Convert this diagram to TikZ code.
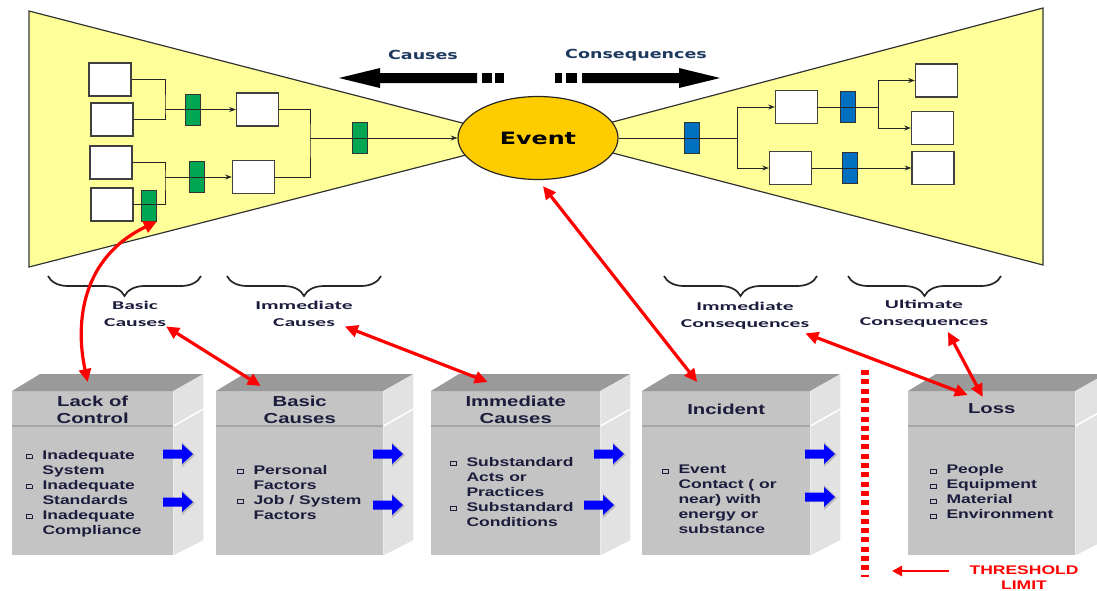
\documentclass[tikz,border=0pt]{standalone}
\usepackage{fontspec}
\setmainfont{Liberation Sans}
\newfontfamily\boxfont{Liberation Sans}[FakeStretch=1.4]
\newfontfamily\evfont{DejaVu Sans}[FakeStretch=1.4]
\newfontfamily\bracefont{Carlito}[FakeStretch=1.8]
\usetikzlibrary{arrows.meta,positioning,calc,shapes.geometric,decorations.pathreplacing}

\definecolor{trapyellow}{HTML}{FFFF99}
\definecolor{evgold}{HTML}{FFCC00}
\definecolor{barrgreen}{HTML}{00A651}
\definecolor{barrblue}{HTML}{0070C0}
\definecolor{topgray}{HTML}{9A9A9A}
\definecolor{frontgray}{HTML}{C4C4C4}
\definecolor{sidegray}{HTML}{E2E2E2}
\definecolor{navytext}{HTML}{1C1C3C}
\definecolor{labelblue}{HTML}{1F3A5F}

% 箇条書きの小さな四角
\newcommand{\sqbul}{\raisebox{1pt}{\setlength{\fboxsep}{0pt}\setlength{\fboxrule}{0.9pt}\fbox{\rule{0pt}{3pt}\hspace{4.5pt}}}}

\begin{document}
\begin{tikzpicture}[x=1pt,y=-1pt,
  whitebox/.style={draw=black!75,line width=1.4pt,fill=white,minimum width=42pt,minimum height=33pt,inner sep=0pt},
  barrier/.style={draw=black!80,line width=0.8pt,minimum width=15pt,minimum height=31pt,inner sep=0pt},
  link/.style={line width=0.8pt,draw=black!85},
  blockfront/.style={fill=frontgray,minimum height=164pt,inner sep=0pt,anchor=north west},
  headtxt/.style={font=\boxfont\bfseries\fontsize{14.5}{17}\selectfont,text=navytext,align=center},
  bodytxt/.style={font=\boxfont\bfseries\fontsize{12.5}{15}\selectfont,text=navytext,anchor=west,inner sep=0pt},
  bracelbl/.style={font=\bracefont\bfseries\fontsize{12}{17}\selectfont,text=navytext,align=center,inner sep=0pt},
  curly/.style={decorate,decoration={brace,mirror,amplitude=20pt},line width=1.7pt,draw=black!85},
  redlink/.style={<->,>={Triangle[length=13pt,width=12pt]},line width=3.2pt,draw=red}]
  \useasboundingbox (0,0) rectangle (1097,590);

  % 左右の台形（原因側・結果側）
  \filldraw[fill=trapyellow,draw=black!80,line width=1.2pt] (29,11) -- (470,125) -- (470,154) -- (29,267) -- cycle;
  \filldraw[fill=trapyellow,draw=black!80,line width=1.2pt] (605,124) -- (1043,8) -- (1043,265) -- (605,151) -- cycle;

  % 中央の事象
  \node[ellipse,draw=black!85,line width=1.2pt,fill=evgold,minimum width=160pt,minimum height=83pt,
        font=\evfont\bfseries\fontsize{17}{20}\selectfont] (ev) at (538,138) {Event};

  % 上部の太矢印
  \node[font=\evfont\bfseries\fontsize{12.5}{15}\selectfont,text=labelblue] (causes) at (423,55) {Causes};
  \node[font=\evfont\bfseries\fontsize{12.5}{15}\selectfont,text=labelblue] (conseq) at (636,55) {Consequences};
  \fill (339,78) -- (380,68) -- (380,73) -- (477,73) -- (477,83) -- (380,83) -- (380,88) -- cycle;
  \fill (482,73) rectangle (492,83);
  \fill (495,73) rectangle (504,83);
  \fill (555,73) rectangle (562,83);
  \fill (566,73) rectangle (577,83);
  \fill (582,73) -- (679,73) -- (679,68) -- (720,78) -- (679,88) -- (679,83) -- (582,83) -- cycle;

  % 原因側の箱とバリア
  \node[whitebox] (c1) at (110,79.5) {};
  \node[whitebox] (c2) at (112,119.5) {};
  \node[whitebox] (c3) at (111,162.5) {};
  \node[whitebox] (c4) at (112,204.5) {};
  \node[whitebox] (c5) at (257.5,109.5) {};
  \node[whitebox] (c6) at (253.5,177) {};
  \node[barrier,fill=barrgreen] (gb1) at (192.5,109.5) {};
  \node[barrier,fill=barrgreen] (gb2) at (196.5,177) {};
  \node[barrier,fill=barrgreen] (gb3) at (360,138) {};
  \node[barrier,fill=barrgreen] (gb4) at (149,205.5) {};
  \coordinate (j1) at (165,109.5);
  \coordinate (j2) at (165,177);
  \coordinate (j3) at (310,138);
  \draw[link] (c1.east) -| (j1) |- (c2.east);
  \draw[link,->,>=Stealth] (j1) -- (c5.west);
  \draw[link] (c3.east) -| (j2) |- (c4.east);
  \draw[link,->,>=Stealth] (j2) -- (c6.west);
  \draw[link] (c5.east) -| (j3) |- (c6.east);
  \draw[link,->,>=Stealth] (j3) -- (ev.west);

  % 結果側の箱とバリア
  \node[whitebox] (q1) at (796.5,107) {};
  \node[whitebox] (q2) at (790.5,168) {};
  \node[whitebox] (q3) at (936.5,80.5) {};
  \node[whitebox] (q4) at (932.5,128) {};
  \node[whitebox] (q5) at (933,168) {};
  \node[barrier,fill=barrblue] (bb1) at (691.5,138) {};
  \node[barrier,fill=barrblue] (bb2) at (847.5,107) {};
  \node[barrier,fill=barrblue] (bb3) at (849.5,168) {};
  \coordinate (k1) at (737,138);
  \coordinate (k2) at (878,107);
  \draw[link] (ev.east) -- (k1);
  \draw[link,->,>=Stealth] (k1) |- (q1.west);
  \draw[link,->,>=Stealth] (k1) |- (q2.west);
  \draw[link] (q1.east) -- (k2);
  \draw[link,->,>=Stealth] (k2) |- (q3.west);
  \draw[link,->,>=Stealth] (k2) |- (q4.west);
  \draw[link,->,>=Stealth] (q2.east) -- (q5.west);

  % 波かっこと説明
  \draw[curly] (48,276) -- (201,276);
  \draw[curly] (227,276) -- (381,276);
  \draw[curly] (664,276) -- (817,276);
  \draw[curly] (848,276) -- (1001,276);
  \node[bracelbl] (bcl) at (135,313.5) {Basic\\Causes};
  \node[bracelbl] (icl) at (304,313.5) {Immediate\\Causes};
  \node[bracelbl] (iql) at (745,315.5) {Immediate\\Consequences};
  \node[bracelbl] (uql) at (924,314) {Ultimate\\Consequences};

  % 下段の立体ブロック
  \node[blockfront,minimum width=161pt] (lcb) at (12,391) {};
  \node[blockfront,minimum width=167pt] (bcb) at (216,391) {};
  \node[blockfront,minimum width=169pt] (icb) at (431,391) {};
  \node[blockfront,minimum width=168pt] (inb) at (642,391) {};
  \node[blockfront,minimum width=167pt] (lob) at (908,391) {};
  \foreach \b in {lcb,bcb,icb,inb,lob} {
    \fill[topgray] (\b.north west) -- ++(28,-17) -- ($(\b.north east)+(30,-17)$) -- (\b.north east) -- cycle;
    \fill[sidegray] (\b.north east) -- ++(30,-17) -- ++(0,166) -- (\b.south east) -- cycle;
    \draw[line width=2pt,black!35] ([yshift=-35pt]\b.north west) -- ([yshift=-35pt]\b.north east);
    \draw[line width=1.5pt,white] ([yshift=-35pt]\b.north east) -- ++(30,-17);
  }
  \node[headtxt] (lch) at ([yshift=-18.5pt]lcb.north) {Lack of\\Control};
  \node[headtxt] (bch) at ([yshift=-18.5pt]bcb.north) {Basic\\Causes};
  \node[headtxt] (ich) at ([yshift=-18.5pt]icb.north) {Immediate\\Causes};
  \node[headtxt] (inh) at ([yshift=-18pt]inb.north) {Incident};
  \node[headtxt] (loh) at ([yshift=-18pt]lob.north) {Loss};
  \node[bodytxt] (lct) at ([xshift=14pt,yshift=-20.5pt]lcb.west) {\begin{tabular}{@{}l@{\hspace{10pt}}l@{}}
    \sqbul & Inadequate\\ & System\\ \sqbul & Inadequate\\ & Standards\\ \sqbul & Inadequate\\ & Compliance\end{tabular}};
  \node[bodytxt] (bct) at ([xshift=21pt,yshift=-20.5pt]bcb.west) {\begin{tabular}{@{}l@{\hspace{10pt}}l@{}}
    \sqbul & Personal\\ & Factors\\ \sqbul & Job / System\\ & Factors\end{tabular}};
  \node[bodytxt] (ict) at ([xshift=19pt,yshift=-20pt]icb.west) {\begin{tabular}{@{}l@{\hspace{10pt}}l@{}}
    \sqbul & Substandard\\ & Acts or\\ & Practices\\ \sqbul & Substandard\\ & Conditions\end{tabular}};
  \node[bodytxt] (int) at ([xshift=20pt,yshift=-27.5pt]inb.west) {\begin{tabular}{@{}l@{\hspace{10pt}}l@{}}
    \sqbul & Event\\ & Contact ( or\\ & near) with\\ & energy or\\ & substance\end{tabular}};
  \node[bodytxt] (lot) at ([xshift=22pt,yshift=-20pt]lob.west) {\begin{tabular}{@{}l@{\hspace{10pt}}l@{}}
    \sqbul & People\\ \sqbul & Equipment\\ \sqbul & Material\\ \sqbul & Environment\end{tabular}};

  % 青い矢印
  \foreach \x/\y in {163/454,163/502,373/454,373/505,594/454,584/505,805/454,805/497} {
    \fill[gray!55] (\x+19,\y-12) -- (\x+32,\y+1) -- (\x+19,\y+13) -- cycle;
    \fill[blue] (\x,\y-4.5) -- (\x+19,\y-4.5) -- (\x+19,\y-10) -- (\x+30,\y) -- (\x+19,\y+10) -- (\x+19,\y+4.5) -- (\x,\y+4.5) -- cycle;
  }

  % 赤い対応矢印
  \draw[redlink] ([xshift=-5pt,yshift=9pt]lcb.north) .. controls +(-13,-60) and +(-75,36) .. (gb4.south east);
  \draw[redlink] (bcl.south east) -- ([xshift=-39pt,yshift=5pt]bcb.north);
  \draw[redlink] ([xshift=-8pt]icl.south east) -- ([xshift=-28pt,yshift=9pt]icb.north);
  \draw[redlink] ([xshift=5pt,yshift=-6pt]ev.south) -- ([xshift=-29pt,yshift=9pt]inb.north);
  \draw[redlink] ([xshift=-4pt,yshift=-4pt]iql.south east) -- ([xshift=-24pt,yshift=-4pt]lob.north);
  \draw[redlink] ([xshift=24pt,yshift=-4pt]uql.south) -- ([xshift=-9pt,yshift=-6pt]lob.north);

  % しきい値
  \draw[red,line width=8pt,dash pattern=on 5pt off 4.3pt] (865,370) -- (865,577);
  \node[font=\boxfont\bfseries\fontsize{12.5}{15}\selectfont,text=red,align=center] (thr) at (1024,577.5) {THRESHOLD\\LIMIT};
  \coordinate (thrtip) at (892,571);
  \draw[->,>={Triangle[length=10pt,width=10pt]},red,line width=2.5pt] ([xshift=-17pt,yshift=6.5pt]thr.west) -- (thrtip);
\end{tikzpicture}
\end{document}
